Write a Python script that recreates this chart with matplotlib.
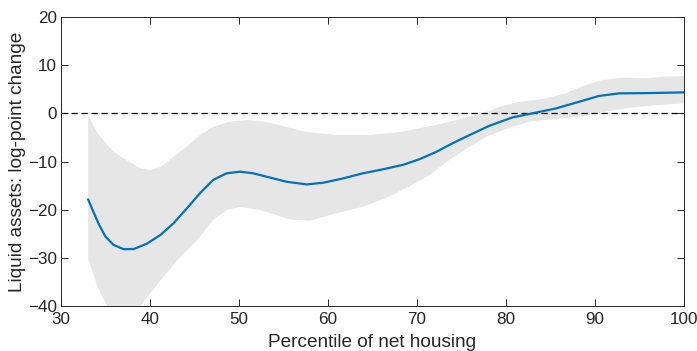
import matplotlib
matplotlib.use("Agg")
import matplotlib.pyplot as plt
import numpy as np

plt.rcParams['font.family'] = ['Liberation Sans', 'DejaVu Sans']

# Point estimate (percentile, log-point change)
mean_x = [33.05, 33.7, 34.3, 35.0, 35.9, 37.05, 38.2, 39.7, 41.2, 42.65, 44.15, 45.6,
          47.1, 48.6, 50.1, 51.6, 53.1, 55.35, 57.6, 59.45, 61.7, 63.9, 66.2, 68.4,
          70.3, 72.15, 74.0, 75.9, 78.1, 80.7, 82.95, 85.55, 88.2, 90.4, 92.7, 95.7, 100.0]
mean_y = [-17.85, -20.7, -23.2, -25.6, -27.3, -28.2, -28.15, -27.0, -25.2, -22.8, -19.7, -16.6,
          -13.8, -12.45, -12.1, -12.45, -13.15, -14.2, -14.75, -14.4, -13.5, -12.45, -11.6, -10.7,
          -9.5, -8.0, -6.2, -4.5, -2.6, -0.85, 0.0, 1.0, 2.4, 3.6, 4.15, 4.2, 4.35]

# Confidence band upper bound
upper_x = [33.05, 34.1, 35.9, 37.8, 38.9, 40.0, 41.2, 42.65, 44.15, 45.6, 47.1, 49.0,
           50.9, 52.4, 53.5, 55.35, 57.25, 61.0, 64.7, 68.4, 72.15, 74.4, 76.6, 78.1,
           79.3, 81.5, 84.5, 86.7, 88.95, 90.8, 93.05, 95.7, 97.5, 100.0]
upper_y = [-0.3, -4.15, -8.0, -10.2, -11.4, -11.8, -11.1, -9.0, -6.9, -4.5, -2.8, -1.7,
           -1.4, -1.6, -1.95, -2.8, -3.8, -4.5, -4.5, -3.8, -2.4, -1.4, -0.35, 0.5,
           1.4, 2.4, 3.1, 4.15, 5.9, 6.9, 7.4, 7.25, 7.6, 7.75]

# Confidence band lower bound
lower_x = [33.05, 34.1, 35.2, 37.0, 38.9, 41.2, 43.4, 45.3, 47.1, 48.6, 50.1, 52.4,
           53.5, 55.7, 57.95, 61.0, 63.9, 66.5, 69.1, 71.4, 73.6, 75.9, 78.1, 80.7,
           82.6, 85.2, 88.2, 91.2, 93.8, 96.8, 100.0]
lower_y = [-30.1, -36.0, -40.0, -44.0, -40.0, -34.6, -29.8, -26.3, -22.1, -20.1, -19.4, -20.1,
           -20.7, -22.0, -22.3, -20.7, -19.4, -17.6, -15.2, -12.8, -9.7, -6.9, -4.6, -2.8,
           -1.7, -1.25, -0.7, 0.35, 1.15, 1.7, 2.05]

x_ticks = [30, 40, 50, 60, 70, 80, 90, 100]
y_ticks = [-40, -30, -20, -10, 0, 10, 20]

fig = plt.figure(figsize=(6.97, 3.51), dpi=100)
ax = fig.add_axes([0.0875, 0.128, 0.894, 0.8236])

band_x = np.concatenate([upper_x, lower_x[::-1]])
band_y = np.concatenate([upper_y, lower_y[::-1]])
ax.fill(band_x, band_y, color='#e6e6e6', linewidth=0, zorder=1)
ax.axhline(0, color='black', linestyle=(0, (5, 3)), linewidth=0.9, zorder=2)
ax.plot(mean_x, mean_y, color='#0072BD', linewidth=1.6, zorder=3,
        solid_joinstyle='round', solid_capstyle='round')

ax.set_xlim(30, 100)
ax.set_ylim(-40, 20)
ax.set_xticks(x_ticks)
ax.set_yticks(y_ticks)
ax.tick_params(direction='in', length=5, width=0.7, top=True, right=True,
               labelsize=12.3, colors='#262626')
ax.tick_params(axis='x', pad=4)
ax.tick_params(axis='y', pad=3)
for s in ax.spines.values():
    s.set_color('#262626')
    s.set_linewidth(0.7)

ax.set_xlabel('Percentile of net housing', fontsize=13.7, color='#262626', labelpad=5.5)
ax.set_ylabel('Liquid assets: log-point change', fontsize=13.7, color='#262626', labelpad=1)

fig.savefig('out.png', dpi=100)
